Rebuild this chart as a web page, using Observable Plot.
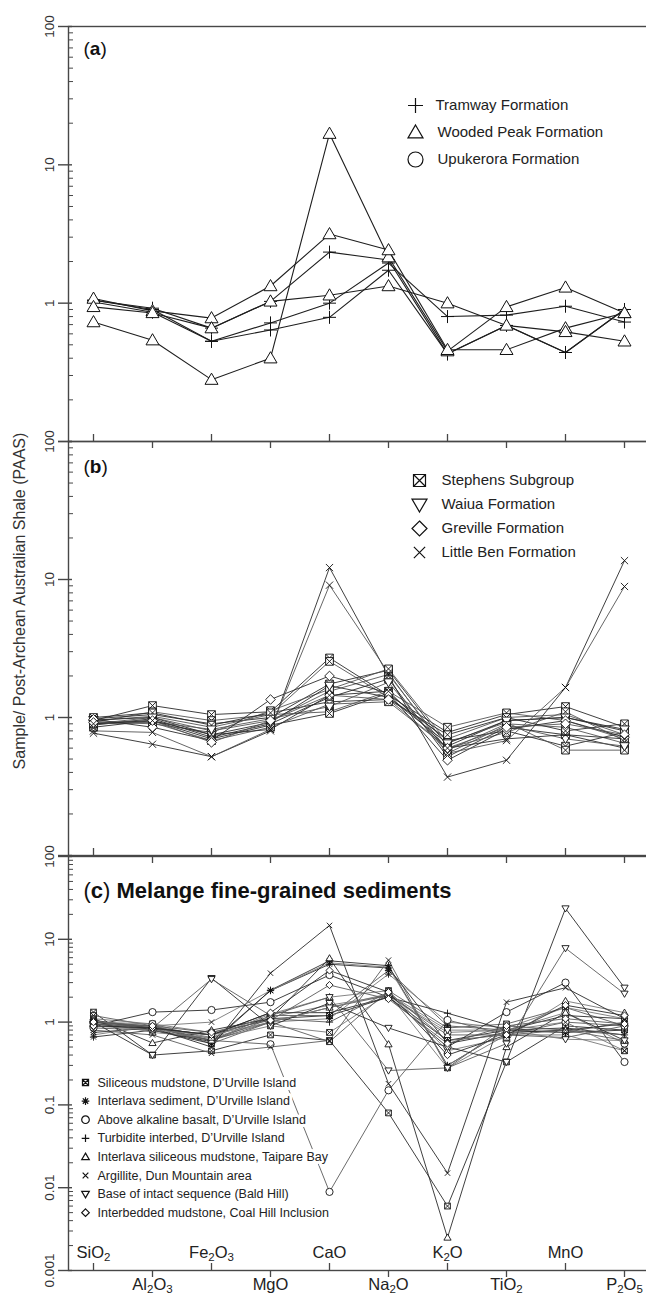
<!DOCTYPE html>
<html>
<head>
<meta charset="utf-8">
<script src="https://cdn.jsdelivr.net/npm/d3@7"></script>
<script src="https://cdn.jsdelivr.net/npm/@observablehq/plot@0.6"></script>
<style>
  html, body { margin: 0; padding: 0; background: #fff; overflow: hidden; }
  #wrap { position: relative; width: 646px; height: 1295px; font-family: "Liberation Sans", Arial, Helvetica, sans-serif; }
  #wrap svg { position: absolute; left: 0; top: 0; }
  #ytitle { position: absolute; left: 20px; top: 601px; transform: translate(-50%, -50%) rotate(-90deg);
            white-space: nowrap; font-size: 16px; color: #333; }
</style>
</head>
<body>
<div id="wrap"><div id="ytitle">Sample/ Post-Archean Australian Shale (PAAS)</div></div>
<script>
// ---------------- DATA ----------------
const ELEMENTS = ["SiO2", "Al2O3", "Fe2O3", "MgO", "CaO", "Na2O", "K2O", "TiO2", "MnO", "P2O5"];

// Panel (a)
const legendA = ["Tramway Formation", "Wooded Peak Formation", "Upukerora Formation"];
const tramway = [
  [1.05, 0.92, 0.66, 1.03, 2.34, 2.05, 0.43, 0.69, 0.44, 0.90],
  [1.05, 0.90, 0.53, 0.72, 1.00, 1.95, 0.80, 0.82, 0.95, 0.73],
  [1.02, 0.86, 0.53, 0.64, 0.79, 1.73, 0.43, 0.69, 0.44, 0.90]
];
const woodedPeak = [
  [0.73, 0.54, 0.28, 0.40, 16.8, 2.15, 0.45, 0.94, 1.30, 0.85],
  [1.08, 0.88, 0.78, 1.33, 3.16, 2.42, 0.46, 0.46, 0.66, 0.85],
  [0.94, 0.85, 0.66, 1.03, 1.14, 1.33, 1.00, 0.69, 0.62, 0.53]
];
const upukerora = [];

// Panel (b)
const legendB = ["Stephens Subgroup", "Waiua Formation", "Greville Formation", "Little Ben Formation"];
const stephens = [
  [0.95, 1.22, 1.05, 1.10, 2.70, 1.45, 0.78, 1.05, 1.20, 0.85],
  [0.92, 1.10, 0.95, 1.05, 2.55, 1.40, 0.70, 1.00, 1.05, 0.75],
  [0.98, 1.05, 0.90, 1.00, 1.75, 2.20, 0.62, 0.95, 1.00, 0.80],
  [0.90, 1.00, 0.80, 0.95, 1.55, 2.05, 0.58, 0.90, 0.85, 0.65],
  [0.88, 0.98, 0.72, 0.90, 1.40, 1.90, 0.52, 0.85, 0.75, 0.60],
  [0.95, 1.02, 0.85, 1.05, 1.10, 1.55, 0.85, 1.08, 0.95, 0.70],
  [0.85, 0.95, 0.70, 0.88, 1.07, 1.50, 0.68, 0.80, 0.62, 0.78],
  [0.93, 0.90, 0.78, 1.12, 1.60, 2.25, 0.66, 0.92, 0.58, 0.58],
  [1.00, 1.08, 0.88, 1.08, 1.30, 1.35, 0.75, 1.00, 0.80, 0.90],
  [0.90, 0.92, 0.68, 0.85, 1.25, 1.30, 0.60, 0.78, 1.10, 0.68]
];
const waiua = [
  [0.96, 1.00, 0.75, 0.92, 1.70, 1.40, 0.65, 0.95, 1.00, 0.82],
  [0.90, 0.93, 0.82, 0.98, 1.20, 1.80, 0.55, 0.88, 0.70, 0.62]
];
const greville = [
  [0.97, 0.85, 0.68, 1.35, 2.00, 1.50, 0.49, 0.82, 0.95, 0.72],
  [0.92, 0.95, 0.66, 0.95, 1.45, 1.35, 0.60, 0.85, 0.90, 0.75]
];
const littleBen = [
  [0.77, 0.64, 0.52, 0.80, 12.2, 2.00, 0.37, 0.49, 1.65, 13.7],
  [0.80, 0.78, 0.52, 0.82, 9.10, 2.10, 0.55, 0.68, 1.65, 8.90],
  [0.90, 0.95, 0.75, 0.82, 1.45, 1.55, 0.60, 0.70, 0.75, 0.70]
];

// Panel (c)
const titleC = "Melange fine-grained sediments";
const legendC = [
  "Siliceous mudstone, D\u2019Urville Island",
  "Interlava sediment, D\u2019Urville Island",
  "Above alkaline basalt, D\u2019Urville Island",
  "Turbidite interbed, D\u2019Urville Island",
  "Interlava siliceous mudstone, Taipare Bay",
  "Argillite, Dun Mountain area",
  "Base of intact sequence (Bald Hill)",
  "Interbedded mudstone, Coal Hill Inclusion"
];
const siliceous = [
  [1.32, 0.40, 0.45, 0.70, 0.60, 0.08, 0.006, 0.33, 0.90, 0.80],
  [1.20, 0.90, 0.55, 1.00, 0.58, 2.40, 0.85, 0.95, 1.50, 0.90],
  [1.10, 0.95, 0.62, 0.90, 0.75, 2.20, 0.28, 0.70, 0.70, 0.45],
  [1.05, 0.85, 0.70, 1.10, 1.20, 2.00, 0.60, 0.80, 1.20, 1.10]
];
const interlavaSed = [
  [0.66, 0.80, 0.55, 2.43, 5.50, 4.80, 0.30, 0.80, 0.75, 0.80],
  [0.90, 0.85, 0.60, 1.20, 1.20, 4.20, 0.90, 0.80, 0.75, 1.00],
  [1.00, 0.90, 0.65, 1.00, 1.10, 3.80, 1.00, 0.85, 1.50, 1.10],
  [0.95, 0.80, 0.58, 2.40, 5.00, 4.50, 0.55, 0.75, 0.80, 0.95]
];
const aboveBasalt = [
  [0.90, 1.32, 1.40, 1.74, 3.70, 2.00, 0.50, 1.32, 3.00, 0.33],
  [0.85, 0.80, 0.60, 0.54, 0.0089, 0.15, 1.06, 0.70, 1.00, 0.90],
  [1.00, 0.95, 0.75, 1.15, 1.60, 2.10, 0.75, 0.80, 1.30, 0.55]
];
const turbidite = [
  [1.00, 0.85, 0.70, 1.30, 1.30, 2.00, 1.28, 0.80, 0.85, 0.70],
  [0.95, 0.88, 0.60, 1.10, 1.00, 2.30, 0.60, 0.70, 0.65, 0.90]
];
const interlavaSil = [
  [1.10, 0.56, 0.80, 1.10, 5.90, 0.54, 0.0025, 0.50, 1.30, 0.60],
  [0.95, 0.90, 0.60, 1.00, 1.50, 2.10, 0.70, 0.70, 0.80, 0.60],
  [1.05, 0.75, 0.65, 1.25, 2.00, 2.40, 0.45, 0.65, 1.80, 1.30]
];
const argillite = [
  [0.75, 0.85, 0.50, 3.90, 14.7, 0.18, 0.015, 1.74, 2.60, 1.10],
  [0.80, 0.70, 0.42, 0.50, 0.60, 5.60, 0.28, 0.90, 0.80, 0.70],
  [0.70, 0.90, 1.00, 2.40, 5.20, 4.60, 0.30, 0.80, 1.00, 0.45]
];
const baseIntact = [
  [1.00, 0.40, 3.40, 0.90, 1.70, 0.85, 0.50, 0.33, 23.6, 2.60],
  [0.95, 0.85, 3.30, 1.20, 2.00, 0.26, 0.28, 0.55, 7.80, 2.20],
  [0.90, 0.80, 0.70, 1.00, 1.50, 2.20, 0.80, 0.80, 0.62, 0.60]
];
const coalHill = [
  [0.90, 0.85, 0.70, 1.30, 4.20, 2.30, 0.40, 0.70, 1.60, 1.20],
  [1.00, 0.90, 0.75, 1.05, 2.80, 1.90, 0.55, 0.90, 1.10, 0.95]
];

// ---------------- SYMBOLS ----------------
function symbolFrom(fn) { return { draw(ctx, size) { fn(ctx, Math.sqrt(size / Math.PI)); } }; }
const SYM = {
  plus: symbolFrom((c, r) => { c.moveTo(-r, 0); c.lineTo(r, 0); c.moveTo(0, -r); c.lineTo(0, r); }),
  times: symbolFrom((c, r) => { const a = r * 0.75; c.moveTo(-a, -a); c.lineTo(a, a); c.moveTo(-a, a); c.lineTo(a, -a); }),
  triUp: symbolFrom((c, r) => { c.moveTo(0, -r); c.lineTo(r, r * 0.72); c.lineTo(-r, r * 0.72); c.closePath(); }),
  triDown: symbolFrom((c, r) => { c.moveTo(0, r); c.lineTo(r, -r * 0.72); c.lineTo(-r, -r * 0.72); c.closePath(); }),
  circle: symbolFrom((c, r) => { c.moveTo(r, 0); c.arc(0, 0, r, 0, 2 * Math.PI); }),
  boxX: symbolFrom((c, r) => { const a = r * 0.8; c.moveTo(-a, -a); c.lineTo(a, -a); c.lineTo(a, a); c.lineTo(-a, a); c.closePath();
                                c.moveTo(-a, -a); c.lineTo(a, a); c.moveTo(-a, a); c.lineTo(a, -a); }),
  diamond: symbolFrom((c, r) => { c.moveTo(0, -r); c.lineTo(r, 0); c.lineTo(0, r); c.lineTo(-r, 0); c.closePath(); }),
  asterisk: symbolFrom((c, r) => { for (let k = 0; k < 4; k++) { const t = k * Math.PI / 4;
                                  c.moveTo(-r * Math.cos(t), -r * Math.sin(t)); c.lineTo(r * Math.cos(t), r * Math.sin(t)); } })
};

// ---------------- HELPERS ----------------
const W = 646, H = 1295, ML = 68, AX = "#474747";
const INNER_W = W - ML;
const ODD = ELEMENTS.filter((d, i) => i % 2 === 0);
const EVEN = ELEMENTS.filter((d, i) => i % 2 === 1);

function tidy(name, series, shades) {
  return series.flatMap((vals, j) => vals.map((v, k) => ({
    group: name, id: name + "-" + j, element: ELEMENTS[k], value: v, shade: shades[j % shades.length]
  })));
}
function decadeTicks(lo, hi) {
  const major = [], minor = [];
  for (let e = Math.round(Math.log10(lo)); e <= Math.round(Math.log10(hi)); e++) {
    const d = Math.pow(10, e);
    major.push(+d.toPrecision(3));
    if (d < hi) for (let m = 2; m <= 9; m++) minor.push(+(m * d).toPrecision(3));
  }
  return { major, minor };
}
const fmt = d => String(d);

function panel(cfg) {
  const innerH = (H - cfg.mb) - cfg.mt;
  const { major, minor } = decadeTicks(cfg.domain[0], cfg.domain[1]);
  const rows = cfg.groups.flatMap(g => tidy(g.name, g.series, cfg.shades));
  const marks = [
    Plot.frame({ stroke: AX, strokeWidth: 1.4, insetRight: -4 }),
    Plot.tickY(minor, { y: d => d, insetRight: INNER_W - 5, stroke: AX, strokeWidth: 1 }),
    Plot.tickY(major, { y: d => d, insetLeft: -10, insetRight: INNER_W - 4, stroke: AX, strokeWidth: 1.4 }),
    Plot.text(cfg.yLabels, { y: d => d, text: fmt, frameAnchor: "left", dx: -19, rotate: -90,
      textAnchor: "middle", lineAnchor: "middle", fontSize: 13.5, fill: "#333" }),
    Plot.tickX(ODD, { x: d => d, insetTop: innerH - 7, stroke: AX, strokeWidth: 1.3 })
  ];
  if (cfg.topTicks) marks.push(Plot.tickX(EVEN, { x: d => d, insetBottom: innerH - 7, stroke: AX, strokeWidth: 1.3 }));
  if (cfg.xLabels) {
    marks.push(Plot.tickX(EVEN, { x: d => d, insetTop: innerH, insetBottom: -7, stroke: AX, strokeWidth: 1.3 }));
    marks.push(Plot.text(ODD, { x: d => d, text: d => d, frameAnchor: "bottom", dy: -18, lineAnchor: "middle", fontSize: 16.5, fill: "#222" }));
    marks.push(Plot.text(EVEN, { x: d => d, text: d => d, frameAnchor: "bottom", dy: 14, lineAnchor: "middle", fontSize: 16.5, fill: "#222" }));
  }
  marks.push(Plot.line(rows, { x: "element", y: "value", z: "id", stroke: "shade", strokeWidth: cfg.lineWidth }));
  for (const g of cfg.groups) {
    marks.push(Plot.dot(rows.filter(r => r.group === g.name), { x: "element", y: "value", symbol: g.symbol,
      r: cfg.markerR, stroke: "#111", fill: "white", strokeWidth: cfg.markerStroke }));
  }
  // legend
  const L = cfg.legend;
  L.items.forEach((it, i) => {
    const dy = L.dy0 + i * L.step;
    if (L.halo) marks.push(Plot.text([it.label], { text: d => d, frameAnchor: "top-left", dx: L.textDx, dy,
      textAnchor: "start", lineAnchor: "middle", fontSize: L.fontSize, fill: "white", stroke: "white", strokeWidth: 6 }));
    marks.push(Plot.text([it.label], { text: d => d, frameAnchor: "top-left", dx: L.textDx + (it.shift || 0), dy,
      textAnchor: "start", lineAnchor: "middle", fontSize: L.fontSize, fill: "#222" }));
    marks.push(Plot.dot([it.label], { frameAnchor: "top-left", dx: L.markerDx, dy, symbol: it.symbol,
      r: L.markerR, stroke: "#111", fill: "white", strokeWidth: L.markerStroke }));
  });
  // panel title
  marks.push(Plot.text([cfg.title], { text: d => d, frameAnchor: "top-left", dx: 15, dy: cfg.titleDy,
    textAnchor: "start", lineAnchor: "middle", fontSize: cfg.titleSize, fill: "#111" }));

  const svg = Plot.plot({
    width: W, height: H, marginLeft: ML, marginRight: 0, marginTop: cfg.mt, marginBottom: cfg.mb,
    style: { background: "transparent", fontFamily: "'Liberation Sans', Arial, Helvetica, sans-serif" },
    x: { type: "point", domain: ELEMENTS, range: [89, 627], padding: 0, axis: null },
    y: { type: "log", domain: cfg.domain, axis: null },
    color: { type: "identity" },
    marks
  });
  // rich text: bold panel letters, chemical subscripts
  d3.select(svg).selectAll("text").each(function () {
    const t = this.textContent;
    const m = /^\(([abc])\)(.*)$/.exec(t);
    if (m) {
      this.innerHTML = `(<tspan font-weight="bold">${m[1]}</tspan>)` +
        (m[2] ? `<tspan font-weight="bold">${m[2]}</tspan>` : "");
    } else if (ELEMENTS.includes(t) && /\d/.test(t)) {
      const parts = t.match(/\d+|\D+/g);
      let html = "", shifted = false;
      for (const p of parts) {
        if (/\d/.test(p)) { html += `<tspan font-size="11.5" dy="3.5">${p}</tspan>`; shifted = true; }
        else { html += shifted ? `<tspan dy="-3.5">${p}</tspan>` : p; shifted = false; }
      }
      this.innerHTML = html;
    }
  });
  return svg;
}

// ---------------- PANELS ----------------
const wrap = document.getElementById("wrap");

wrap.appendChild(panel({
  mt: 26, mb: H - 441, domain: [0.1, 100], yLabels: [100, 10, 1], topTicks: false, xLabels: false,
  shades: ["#1e1e1e"], lineWidth: 1.1, markerR: 6.5, markerStroke: 1,
  groups: [
    { name: legendA[0], series: tramway, symbol: SYM.plus },
    { name: legendA[1], series: woodedPeak, symbol: SYM.triUp },
    { name: legendA[2], series: upukerora, symbol: SYM.circle }
  ],
  legend: { dy0: 79, step: 27, textDx: 369, markerDx: 347, fontSize: 15, markerR: 7.5, markerStroke: 1.2,
    items: [ { label: legendA[0], symbol: SYM.plus, shift: -2 }, { label: legendA[1], symbol: SYM.triUp },
             { label: legendA[2], symbol: SYM.circle } ] },
  title: "(a)", titleDy: 22, titleSize: 19
}));

wrap.appendChild(panel({
  mt: 441, mb: H - 855, domain: [0.1, 100], yLabels: [100, 10, 1], topTicks: true, xLabels: false,
  shades: ["#2a2a2a", "#555"], lineWidth: 0.9, markerR: 4.8, markerStroke: 0.9,
  groups: [
    { name: legendB[0], series: stephens, symbol: SYM.boxX },
    { name: legendB[1], series: waiua, symbol: SYM.triDown },
    { name: legendB[2], series: greville, symbol: SYM.diamond },
    { name: legendB[3], series: littleBen, symbol: SYM.times }
  ],
  legend: { dy0: 39, step: 24, textDx: 373, markerDx: 351, fontSize: 15, markerR: 7.5, markerStroke: 1.2,
    items: [ { label: legendB[0], symbol: SYM.boxX }, { label: legendB[1], symbol: SYM.triDown },
             { label: legendB[2], symbol: SYM.diamond }, { label: legendB[3], symbol: SYM.times } ] },
  title: "(b)", titleDy: 25, titleSize: 19
}));

wrap.appendChild(panel({
  mt: 856, mb: H - 1270, domain: [0.001, 100], yLabels: [100, 10, 1, 0.1, 0.01, 0.001], topTicks: true, xLabels: true,
  shades: ["#2a2a2a", "#5a5a5a", "#777"], lineWidth: 0.9, markerR: 3.6, markerStroke: 0.9,
  groups: [
    { name: legendC[0], series: siliceous, symbol: SYM.boxX },
    { name: legendC[1], series: interlavaSed, symbol: SYM.asterisk },
    { name: legendC[2], series: aboveBasalt, symbol: SYM.circle },
    { name: legendC[3], series: turbidite, symbol: SYM.plus },
    { name: legendC[4], series: interlavaSil, symbol: SYM.triUp },
    { name: legendC[5], series: argillite, symbol: SYM.times },
    { name: legendC[6], series: baseIntact, symbol: SYM.triDown },
    { name: legendC[7], series: coalHill, symbol: SYM.diamond }
  ],
  legend: { dy0: 226, step: 18.6, textDx: 29, markerDx: 17, fontSize: 12.5, markerR: 3.8, markerStroke: 1.2, halo: true,
    items: legendC.map((label, i) => ({ label,
      symbol: [SYM.boxX, SYM.asterisk, SYM.circle, SYM.plus, SYM.triUp, SYM.times, SYM.triDown, SYM.diamond][i] })) },
  title: "(c) " + titleC, titleDy: 34, titleSize: 22
}));
</script>
</body>
</html>
